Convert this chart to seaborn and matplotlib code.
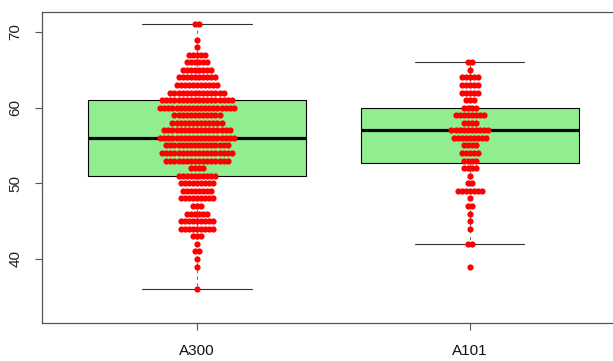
import numpy as np
import pandas as pd
import matplotlib.pyplot as plt
import seaborn as sns

# values (value -> number of dots in the row)
groups = ["A300", "A101"]
a300_values = [71, 69, 68, 67, 66, 65, 64, 63, 62, 61, 60, 59, 58, 57, 56, 55, 54,
               53, 52, 51, 50, 49, 48, 47, 46, 45, 44, 43, 42, 41, 40, 39, 36]
a300_counts = [2, 1, 1, 5, 6, 8, 10, 11, 14, 18, 19, 12, 13, 17, 19, 16, 18,
               16, 4, 10, 9, 8, 9, 3, 6, 9, 9, 3, 1, 2, 1, 1, 1]
a101_values = [66, 65, 64, 63, 62, 61, 60, 59, 58, 57, 56, 55, 54, 53, 52, 51,
               50, 49, 48, 47, 46, 45, 44, 42, 39]
a101_counts = [2, 1, 5, 5, 5, 3, 4, 8, 4, 10, 9, 4, 5, 4, 4, 1,
               2, 7, 1, 2, 1, 1, 1, 2, 1]
y_ticks = [40, 50, 60, 70]

BOX_FILL = "#90EE90"
DOT = "#FF0000"
AXIS = "#555555"
STEP = 0.015   # horizontal spacing of tied points (beeswarm rows)


def swarm_rows(values, counts, pos):
    """Lay tied values out in centred horizontal rows like R's beeswarm."""
    xs, ys = [], []
    for v, n in zip(values, counts):
        off = (np.arange(n) - (n - 1) / 2) * STEP
        xs.extend(pos + off)
        ys.extend([v] * n)
    return xs, ys


df = pd.DataFrame({
    "group": ["A300"] * sum(a300_counts) + ["A101"] * sum(a101_counts),
    "value": np.concatenate([np.repeat(a300_values, a300_counts),
                             np.repeat(a101_values, a101_counts)]),
})

sns.set_style("white")
plt.rcParams["font.family"] = ["Liberation Sans", "DejaVu Sans"]

fig = plt.figure(figsize=(6.13, 3.61), dpi=100)
# plot frame runs off the right edge of the picture, as in the reference
ax = fig.add_axes([42 / 613, 1 - 323 / 361, (617 - 42) / 613, (323 - 12) / 361])

sns.boxplot(data=df, x="group", y="value", order=groups, width=0.8, whis=1.5,
            showfliers=False, color=BOX_FILL, saturation=1, linecolor="black",
            linewidth=0.8, ax=ax,
            medianprops=dict(linewidth=2.3, color="black"),
            whiskerprops=dict(linestyle=(0, (3, 3)), color="#777777"),
            capprops=dict(color="#333333"),
            capwidths=[0.4, 0.4])

x1, y1 = swarm_rows(a300_values, a300_counts, 0.0)
x2, y2 = swarm_rows(a101_values, a101_counts, 1.0)
sns.scatterplot(x=x1 + x2, y=y1 + y2, color=DOT, s=20, linewidth=0,
                ax=ax, zorder=4, legend=False)

ax.set_xlim(-0.568, 1.539)
ax.set_ylim(31.54, 72.64)
ax.set_xticks([0, 1])
ax.set_xticklabels(groups)
ax.set_yticks(y_ticks)
ax.set_yticklabels([str(t) for t in y_ticks], rotation=90, va="center")
ax.set_xlabel("")
ax.set_ylabel("")

ax.tick_params(axis="y", left=True, length=5, width=0.8, color=AXIS,
               labelsize=11, labelcolor="#222222", pad=9)
ax.tick_params(axis="x", bottom=True, length=5, width=0.8, color=AXIS,
               labelsize=11, labelcolor="#111111", pad=10)
for sp in ax.spines.values():
    sp.set_visible(True)
    sp.set_edgecolor(AXIS)
    sp.set_linewidth(0.9)

fig.savefig("out.png", dpi=100)
plt.close()
